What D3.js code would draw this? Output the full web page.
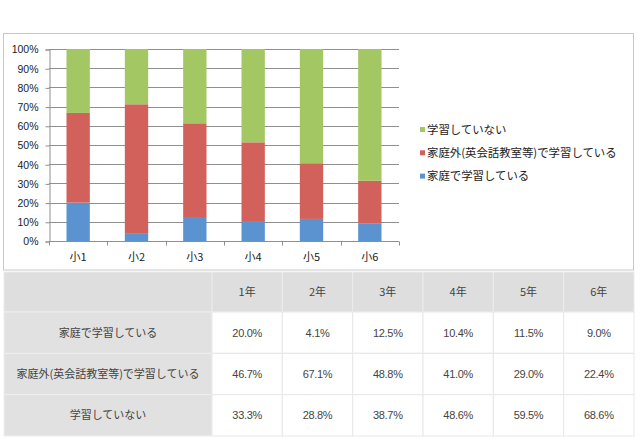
<!DOCTYPE html>
<html><head><meta charset="utf-8">
<script src="https://cdn.jsdelivr.net/npm/d3@7"></script>
<style>body{margin:0;background:#fff}svg{display:block}</style>
</head><body>
<svg id="c" width="640" height="439"></svg>
<script>
const categories = ["小1","小2","小3","小4","小5","小6"];
const years = ["1年","2年","3年","4年","5年","6年"];
const seriesNames = ["家庭で学習している","家庭外(英会話教室等)で学習している","学習していない"];
const home = [20.0, 4.1, 12.5, 10.4, 11.5, 9.0];
const outside = [46.7, 67.1, 48.8, 41.0, 29.0, 22.4];
const none = [33.3, 28.8, 38.7, 48.6, 59.5, 68.6];
const yTicks = [0,10,20,30,40,50,60,70,80,90,100];
const colors = ["#5b93d1","#d2605b","#a3c763"];

const svg = d3.select("#c");
const font = "'Liberation Sans', Arial, 'Noto Sans CJK JP', sans-serif";
const jfont = "'Noto Sans CJK JP', sans-serif";

// chart frame
svg.append("rect").attr("x",3.5).attr("y",33.5).attr("width",630).attr("height",236.5)
  .attr("fill","#fff").attr("stroke","#c9c9c9").attr("stroke-width",1);

const x = d3.scaleBand().domain(categories).range([49,399]).paddingInner(0.6).paddingOuter(0.3);
const y = d3.scaleLinear().domain([0,100]).range([241,49]);

const g = svg.append("g");
// gridlines
g.selectAll("line.grid").data(yTicks).join("line")
  .attr("x1",49).attr("x2",399)
  .attr("y1",d=>Math.round(y(d))+0.5).attr("y2",d=>Math.round(y(d))+0.5)
  .attr("stroke","#8f8f8f").attr("stroke-width",1);

// y axis
const yAxis = d3.axisLeft(y).tickValues(yTicks).tickFormat(d=>d+"%").tickSize(4).tickPadding(7);
const ya = svg.append("g").attr("transform","translate(49.5,0.5)").call(yAxis);
ya.select(".domain").attr("stroke","#8f8f8f");
ya.selectAll(".tick line").attr("stroke","#8f8f8f");
ya.selectAll("text").attr("font-family",font).attr("font-size","10.5px").attr("fill","#222");

// stacked bars
const rows = categories.map((c,i)=>({cat:c, s0:home[i], s1:outside[i], s2:none[i]}));
const stack = d3.stack().keys(["s0","s1","s2"])(rows);
stack.forEach((layer,k)=>{
  g.selectAll("rect.s"+k).data(layer).join("rect")
    .attr("x",d=>x(d.data.cat)).attr("width",x.bandwidth())
    .attr("y",d=>y(d[1])).attr("height",d=>y(d[0])-y(d[1]))
    .attr("fill",colors[k]);
});

// x axis
const xa = svg.append("g").attr("transform","translate(0,241.5)");
xa.append("line").attr("x1",49).attr("x2",399).attr("stroke","#8f8f8f");
const step = x.step();
const bounds = d3.range(categories.length+1).map(i=>49+i*step);
xa.selectAll("line.tk").data(bounds).join("line")
  .attr("x1",d=>Math.round(d)+0.5).attr("x2",d=>Math.round(d)+0.5).attr("y1",0).attr("y2",4)
  .attr("stroke","#8f8f8f");
xa.selectAll("text").data(categories).join("text")
  .attr("x",d=>x(d)+x.bandwidth()/2).attr("y",19)
  .attr("text-anchor","middle").attr("font-family",jfont).attr("font-size","11px").attr("fill","#222")
  .text(d=>d);

// legend (reverse order)
const legOrder = [2,1,0];
const lg = svg.append("g");
legOrder.forEach((k,i)=>{
  const cy = 129.5 + i*23.3;
  lg.append("rect").attr("x",420).attr("y",cy-2.5).attr("width",5).attr("height",5).attr("fill",colors[k]);
  lg.append("text").attr("x",427).attr("y",cy).attr("dy","0.36em")
    .attr("font-family",jfont).attr("font-size","11.4px").attr("fill","#222").text(seriesNames[k]);
});

// table
const tx = d3.scaleBand().domain(years).range([212,634]);
const ty = d3.scaleBand().domain(seriesNames).range([312,436]);
const t = svg.append("g");
// header row
t.append("rect").attr("x",4).attr("y",272).attr("width",208).attr("height",40).attr("fill","#dedede").attr("stroke","#ececec");
t.selectAll("rect.h").data(years).join("rect")
  .attr("x",d=>tx(d)).attr("y",272).attr("width",tx.bandwidth()).attr("height",40)
  .attr("fill","#dedede").attr("stroke","#ececec");
t.selectAll("text.h").data(years).join("text")
  .attr("x",d=>tx(d)+tx.bandwidth()/2).attr("y",292).attr("dy","0.36em")
  .attr("text-anchor","middle").attr("font-family",jfont).attr("font-size","11px").attr("fill","#444").text(d=>d);
// row labels
const vals = [home, outside, none];
seriesNames.forEach((name,r)=>{
  t.append("rect").attr("x",4).attr("y",ty(name)).attr("width",208).attr("height",ty.bandwidth())
    .attr("fill","#e1e1e1").attr("stroke","#eeeeee");
  t.append("text").attr("x",108).attr("y",ty(name)+ty.bandwidth()/2).attr("dy","0.36em")
    .attr("text-anchor","middle").attr("font-family",jfont).attr("font-size","11px").attr("fill","#444").text(name);
  years.forEach((yr,c)=>{
    t.append("rect").attr("x",tx(yr)).attr("y",ty(name)).attr("width",tx.bandwidth()).attr("height",ty.bandwidth())
      .attr("fill","#fff").attr("stroke","#e8e8e8");
    t.append("text").attr("x",tx(yr)+tx.bandwidth()/2).attr("y",ty(name)+ty.bandwidth()/2).attr("dy","0.36em")
      .attr("text-anchor","middle").attr("font-family",font).attr("font-size","11px").attr("fill","#444")
      .attr("letter-spacing","-0.3px")
      .text(vals[r][c].toFixed(1)+"%");
  });
});
</script>
</body></html>
